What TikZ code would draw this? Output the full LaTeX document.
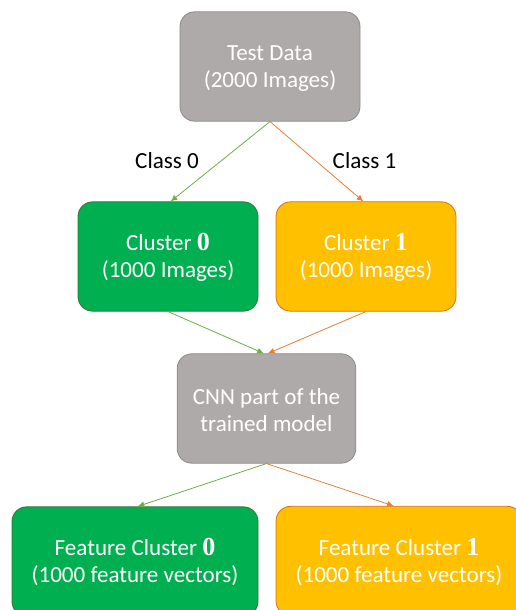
\documentclass[tikz,border=0pt]{standalone}
\usepackage{fontspec}
\setmainfont{Carlito}
\newfontfamily\numfont{Liberation Serif}
\usetikzlibrary{arrows.meta}

\definecolor{boxgray}{HTML}{AEAAAA}
\definecolor{edgegray}{HTML}{8C8888}
\definecolor{boxgreen}{HTML}{00B050}
\definecolor{edgegreen}{HTML}{3B6E3B}
\definecolor{boxgold}{HTML}{FFC000}
\definecolor{edgegold}{HTML}{D86E1E}
\definecolor{arrgreen}{HTML}{70AD47}
\definecolor{arrorange}{HTML}{ED7D31}

\newcommand{\clnum}[1]{{\numfont\bfseries\fontsize{19.5}{20}\selectfont #1}}

\begin{document}
\begin{tikzpicture}[x=0.75pt, y=0.75pt,
	every node/.style={font=\fontsize{17.3}{20.5}\selectfont},
	box/.style={rounded corners=11pt, align=center, text=white, minimum width=135pt, minimum height=82pt, text height=34.5pt, line width=0.6pt},
	graybox/.style={box, fill=boxgray, draw=edgegray},
	greenbox/.style={box, fill=boxgreen, draw=edgegreen},
	goldbox/.style={box, fill=boxgold, draw=edgegold},
	garrow/.style={arrgreen, line width=0.6pt, -{Latex[length=5pt,width=4.5pt]}},
	oarrow/.style={arrorange, line width=0.6pt, -{Latex[length=5pt,width=4.5pt]}}]
	\useasboundingbox (0,0) rectangle (516,-610);
	\node[graybox] (test) at (270,-66.5) {Test Data\\(2000 Images)};
	\node[greenbox] (c0) at (168,-256.5) {Cluster \clnum{0}\\(1000 Images)};
	\node[goldbox] (c1) at (366,-256.5) {Cluster \clnum{1}\\(1000 Images)};
	\node[graybox, minimum width=134pt] (cnn) at (266.5,-408.5) {CNN part of the\\trained model};
	\node[greenbox, minimum width=184.5pt] (f0) at (135,-561.5) {Feature Cluster \clnum{0}\\(1000 feature vectors)};
	\node[goldbox, minimum width=184.5pt] (f1) at (399,-561) {Feature Cluster \clnum{1}\\(1000 feature vectors)};
	% class labels
	\node (cl0) at (167,-161) {Class 0};
	\node (cl1) at (364.5,-161) {Class 1};
	% arrows
	\draw[garrow] (test.south) -- ([xshift=2pt]c0.north);
	\draw[oarrow] (test.south) -- ([xshift=-2pt]c1.north);
	\draw[garrow] (c0.south) -- ([xshift=-2pt]cnn.north);
	\draw[oarrow] (c1.south) -- ([xshift=1pt]cnn.north);
	\draw[garrow] (cnn.south) -- ([xshift=2pt]f0.north);
	\draw[oarrow] (cnn.south) -- ([xshift=-4pt]f1.north);
\end{tikzpicture}
\end{document}
